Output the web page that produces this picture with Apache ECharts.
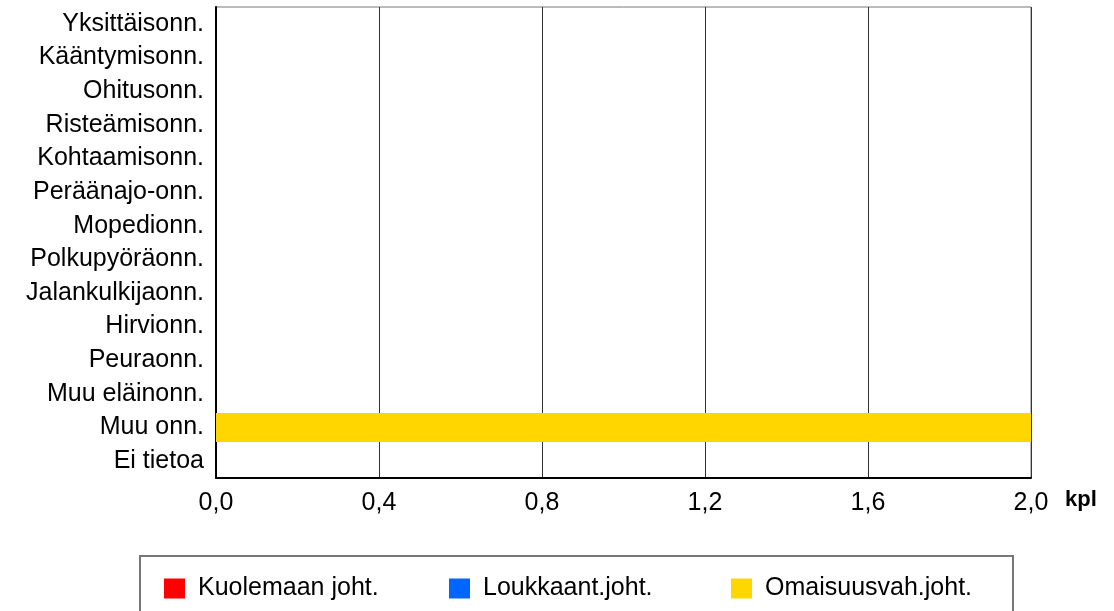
<!DOCTYPE html>
<html>
<head>
<meta charset="utf-8">
<script src="https://cdn.jsdelivr.net/npm/echarts@6/dist/echarts.min.js"></script>
<style>
  html, body { margin: 0; padding: 0; background: #fff; }
  #chart { width: 1114px; height: 611px; }
</style>
</head>
<body>
<div id="chart"></div>
<script>
// onnettomuusluokat ylhäältä alas
var categories = ['Yksittäisonn.', 'Kääntymisonn.', 'Ohitusonn.', 'Risteämisonn.', 'Kohtaamisonn.',
  'Peräänajo-onn.', 'Mopedionn.', 'Polkupyöräonn.', 'Jalankulkijaonn.', 'Hirvionn.',
  'Peuraonn.', 'Muu eläinonn.', 'Muu onn.', 'Ei tietoa'];
var seriesNames = ['Kuolemaan joht.', 'Loukkaant.joht.', 'Omaisuusvah.joht.'];
var kuolemaan = [0, 0, 0, 0, 0, 0, 0, 0, 0, 0, 0, 0, 0, 0];
var loukkaant = [0, 0, 0, 0, 0, 0, 0, 0, 0, 0, 0, 0, 0, 0];
var omaisuus = [0, 0, 0, 0, 0, 0, 0, 0, 0, 0, 0, 0, 2, 0];
var xTicks = { min: 0, max: 2, interval: 0.4 };
var colors = ['#FF0000', '#0066FF', '#FFD600'];

var font = "'Liberation Sans', Arial, sans-serif";
var myChart = echarts.init(document.getElementById('chart'));

function legendFor(i, left) {
  return {
    data: [seriesNames[i]],
    left: left,
    top: 571,
    icon: 'rect',
    itemWidth: 21,
    itemHeight: 20,
    textStyle: { fontFamily: font, fontSize: 25, color: '#000', padding: [0, 0, 0, 8] },
    selectedMode: false
  };
}

var data = [kuolemaan, loukkaant, omaisuus];
var series = [];
for (var i = 0; i < seriesNames.length; i++) {
  series.push({
    name: seriesNames[i],
    type: 'bar',
    stack: 'total',
    barWidth: 29,
    data: data[i],
    itemStyle: { color: colors[i] }
  });
}

var option = {
  backgroundColor: '#fff',
  animation: false,
  grid: {
    left: 216, right: 83, top: 7, bottom: 133,
    show: true, borderColor: '#777', borderWidth: 1
  },
  legend: [legendFor(0, 159), legendFor(1, 444), legendFor(2, 726)],
  graphic: [{
    type: 'rect',
    shape: { x: 140, y: 556, width: 873, height: 80 },
    style: { fill: 'none', stroke: '#777', lineWidth: 2 },
    z: -1
  }],
  xAxis: {
    type: 'value',
    min: xTicks.min,
    max: xTicks.max,
    interval: xTicks.interval,
    name: 'kpl',
    nameLocation: 'end',
    nameGap: 34,
    nameTextStyle: {
      fontFamily: font, fontSize: 22, fontWeight: 'bold', color: '#000',
      verticalAlign: 'top', padding: [11, 0, 0, 0]
    },
    axisLine: { show: true, lineStyle: { color: '#000', width: 2 } },
    axisTick: { show: false },
    splitLine: { show: true, lineStyle: { color: '#333', width: 1 } },
    axisLabel: {
      fontFamily: font, fontSize: 25, color: '#000', margin: 13,
      formatter: function (v) { return v.toFixed(1).replace('.', ','); }
    }
  },
  yAxis: {
    type: 'category',
    inverse: true,
    data: categories,
    axisLine: { show: true, lineStyle: { color: '#000', width: 2 } },
    axisTick: { show: false },
    splitLine: { show: false },
    axisLabel: { fontFamily: font, fontSize: 25, color: '#000', margin: 12 }
  },
  series: series
};
myChart.setOption(option);
</script>
</body>
</html>
